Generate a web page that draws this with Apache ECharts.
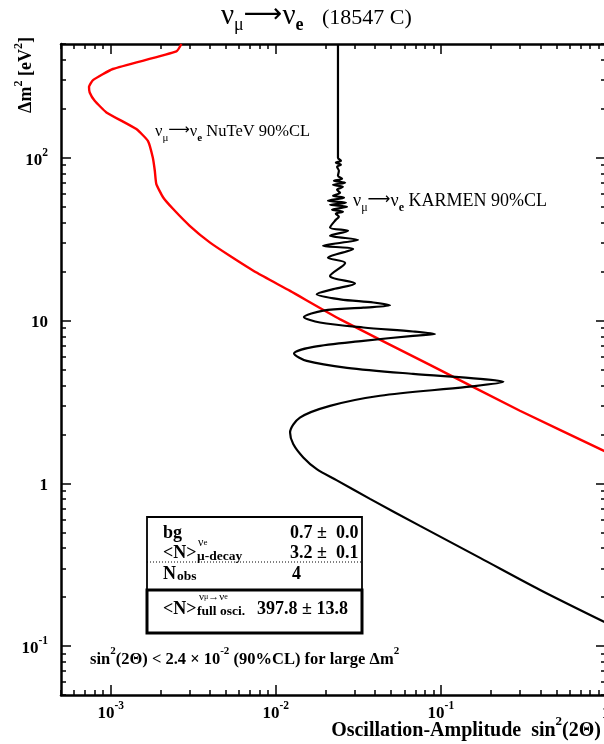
<!DOCTYPE html>
<html>
<head>
<meta charset="utf-8">
<script src="https://cdn.jsdelivr.net/npm/echarts@6/dist/echarts.min.js"></script>
<style>
  html, body { margin: 0; padding: 0; background: #fff; }
  #chart { width: 604px; height: 744px; }
</style>
</head>
<body>
<div id="chart"></div>
<script>
const SERIF = '"Liberation Serif", "Times New Roman", "DejaVu Serif", serif';
const ARROWF = '"DejaVu Sans", "Liberation Serif", serif';

// NuTeV nu_mu -> nu_e 90% CL contour: sin^2(2theta) and Delta m^2 [eV^2]
const nutevSin2 = [0.00268, 0.00250, 0.00103, 0.000781, 0.000739, 0.000746, 0.000800, 0.000942,
  0.00143, 0.00168, 0.00180, 0.00185, 0.00189, 0.00208, 0.00239, 0.00301, 0.00398, 0.00526,
  0.00764, 0.0122, 0.0244, 0.0858, 0.301, 1.0];
const nutevDm2 = [500, 450, 351, 300, 273, 252, 224, 190,
  150, 127, 100, 83.2, 68.9, 57.0, 48.4, 38.2, 30.2, 25.0,
  19.7, 15.2, 10.2, 5.34, 2.79, 1.56];

// KARMEN nu_mu -> nu_e 90% CL contour
const karmenSin2 = [0.0238, 0.0238, 0.0248, 0.0231, 0.0248, 0.0235, 0.0241, 0.0238, 0.0252, 0.0225,
  0.0263, 0.0222, 0.0255, 0.0235, 0.0245, 0.0222, 0.0259, 0.0207, 0.0266, 0.0213,
  0.0270, 0.0219, 0.0255, 0.0231, 0.0241, 0.0231, 0.0213, 0.0274, 0.0213, 0.0315,
  0.0193, 0.0294, 0.0207, 0.0263, 0.0213, 0.0302, 0.0223, 0.0177, 0.0245, 0.0390,
  0.0492, 0.0339, 0.0194, 0.0148, 0.0185, 0.0339, 0.0678, 0.0921, 0.0678, 0.0339,
  0.0169, 0.0129, 0.0154, 0.0270, 0.0678, 0.1727, 0.239, 0.1434, 0.0428, 0.0213,
  0.0140, 0.0122, 0.01275, 0.01467, 0.0177, 0.0233, 0.0372, 0.0747, 0.1727, 0.399, 1.0];
const karmenDm2 = [500, 100, 95.8, 93.2, 90.6, 88.0, 83.2, 77.5, 74.3, 72.2,
  70.2, 68.2, 66.3, 63.6, 60.9, 58.4, 56.8, 54.4, 52.9, 51.4,
  50.0, 47.9, 46.6, 45.3, 43.4, 41.6, 37.3, 35.6, 33.2, 31.3,
  28.8, 27.5, 24.3, 22.6, 18.8, 16.9, 15.6, 14.5, 13.5, 12.9,
  12.4, 12.0, 11.5, 10.5, 9.72, 9.06, 8.56, 8.25, 8.05, 7.50,
  6.89, 6.27, 5.65, 5.12, 4.70, 4.38, 4.20, 3.91, 3.45, 2.99,
  2.53, 2.05, 1.74, 1.44, 1.22, 1.045, 0.802, 0.547, 0.348, 0.221, 0.139];

// axis ranges and decade ticks
const xRange = [5e-4, 1];
const yRange = [0.05, 500];
const xMajor = [0.001, 0.01, 0.1, 1];
const xTickLabels = ['10^-3', '10^-2', '10^-1', '1'];
const yMajor = [0.1, 1, 10, 100];
const yTickLabels = ['10^-1', '1', '10', '10^2'];

// 2..9 sub-divisions of every decade inside a range
function minorTicks(range) {
  const out = [];
  for (let e = Math.floor(Math.log10(range[0])); e <= Math.ceil(Math.log10(range[1])); e++) {
    for (let m = 2; m <= 9; m++) {
      const v = +(m * Math.pow(10, e)).toPrecision(6);
      if (v >= range[0] * 0.999 && v <= range[1] * 1.001) out.push(v);
    }
  }
  return out;
}
const xMinor = minorTicks(xRange);
const yMinor = minorTicks(yRange);

function powerLabel(value, labels, majors) {
  const i = majors.findIndex(m => Math.abs(m - value) / m < 1e-6);
  if (i < 0) return '';
  const parts = labels[i].split('^');
  return parts.length > 1 ? '{b|' + parts[0] + '}{s|' + parts[1] + '}' : '{b|' + parts[0] + '}';
}

const tickRich = {
  b: { fontFamily: SERIF, fontWeight: 'bold', fontSize: 17, color: '#000', lineHeight: 22, verticalAlign: 'bottom' },
  s: { fontFamily: SERIF, fontWeight: 'bold', fontSize: 11.5, color: '#000', lineHeight: 12, verticalAlign: 'top' }
};

function makeAxis(kind, position, values, len, withLine, labels) {
  const range = kind === 'x' ? xRange : yRange;
  const ax = {
    type: 'log', logBase: 10, min: range[0], max: range[1], position: position,
    axisLine: { show: withLine, onZero: false, lineStyle: { color: '#000', width: 2.5 } },
    axisTick: { show: true, inside: true, length: len, customValues: values, lineStyle: { color: '#000', width: 1.5 } },
    axisLabel: { show: false },
    splitLine: { show: false }, minorTick: { show: false }, minorSplitLine: { show: false }
  };
  if (labels) {
    const majors = kind === 'x' ? xMajor : yMajor;
    ax.axisLabel = {
      show: true, customValues: majors, margin: kind === 'x' ? 5 : 13,
      formatter: v => powerLabel(v, labels, majors), rich: tickRich
    };
  }
  return ax;
}

const chart = echarts.init(document.getElementById('chart'), null, { renderer: 'canvas' });

function rt(x, y, text, rich, extra) {
  return {
    type: 'text', x: x, y: y, silent: true,
    style: Object.assign({ text: text, rich: rich, align: 'left', verticalAlign: 'middle', fill: '#000' }, extra || {})
  };
}

const boxRich = {
  b: { fontFamily: SERIF, fontWeight: 'bold', fontSize: 18, lineHeight: 22, verticalAlign: 'bottom', color: '#000' },
  d: { fontFamily: SERIF, fontWeight: 'bold', fontSize: 13.5, lineHeight: 13, verticalAlign: 'bottom', color: '#000' }
};
const noteRich = {
  b: { fontFamily: SERIF, fontWeight: 'bold', fontSize: 16.5, lineHeight: 22, verticalAlign: 'bottom', color: '#000' },
  s: { fontFamily: SERIF, fontWeight: 'bold', fontSize: 11, lineHeight: 11, verticalAlign: 'top', color: '#000' }
};

function reactionRich(size, arrowSize, subSize, color) {
  return {
    t: { fontFamily: SERIF, fontSize: size, lineHeight: size + 4, verticalAlign: 'top', color: color },
    a: { fontFamily: ARROWF, fontSize: arrowSize, lineHeight: size + 4, verticalAlign: 'top', color: color },
    u: { fontFamily: SERIF, fontSize: subSize, lineHeight: subSize, verticalAlign: 'bottom', color: color },
    e: { fontFamily: SERIF, fontWeight: 'bold', fontSize: subSize, lineHeight: subSize, verticalAlign: 'bottom', color: color }
  };
}

const option = {
  animation: false,
  backgroundColor: '#fff',
  grid: { left: 61, top: 44, width: 545, height: 651, outerBoundsMode: 'none', containLabel: false },
  xAxis: [
    makeAxis('x', 'bottom', xMajor, 10, true, xTickLabels),
    makeAxis('x', 'bottom', xMinor, 5, false),
    makeAxis('x', 'top', xMajor, 10, true),
    makeAxis('x', 'top', xMinor, 5, false)
  ],
  yAxis: [
    makeAxis('y', 'left', yMajor, 10, true, yTickLabels),
    makeAxis('y', 'left', yMinor, 5, false),
    makeAxis('y', 'right', yMajor, 10, true),
    makeAxis('y', 'right', yMinor, 5, false)
  ],
  series: [
    {
      name: 'NuTeV', type: 'line', xAxisIndex: 0, yAxisIndex: 0,
      data: nutevSin2.map((v, i) => [v, nutevDm2[i]]),
      showSymbol: false, smooth: 0.15,
      lineStyle: { color: '#ff0000', width: 2.4 }
    },
    {
      name: 'KARMEN', type: 'line', xAxisIndex: 0, yAxisIndex: 0,
      data: karmenSin2.map((v, i) => [v, karmenDm2[i]]),
      showSymbol: false, smooth: 0.3,
      lineStyle: { color: '#000', width: 2.2 }
    }
  ],
  graphic: [
    // title
    rt(221, 18, '{t|ν}{u|μ}{a|⟶}{t|ν}{e|e}', reactionRich(29, 27, 18, '#000')),
    rt(322, 18, '(18547 C)', null, { font: '22px ' + SERIF }),
    // y axis title
    Object.assign(rt(24, 75, '{b|Δm}{s|2}{b| [eV}{s|2}{b|]}', {
      b: { fontFamily: SERIF, fontWeight: 'bold', fontSize: 18, lineHeight: 22, verticalAlign: 'bottom', color: '#000' },
      s: { fontFamily: SERIF, fontWeight: 'bold', fontSize: 12, lineHeight: 12, verticalAlign: 'top', color: '#000' }
    }, { align: 'center' }), { rotation: Math.PI / 2 }),
    // x axis title
    rt(601, 728, '{b|Oscillation-Amplitude  sin}{s|2}{b|(2Θ)}', {
      b: { fontFamily: SERIF, fontWeight: 'bold', fontSize: 20, lineHeight: 25, verticalAlign: 'bottom', color: '#000' },
      s: { fontFamily: SERIF, fontWeight: 'bold', fontSize: 13, lineHeight: 13, verticalAlign: 'top', color: '#000' }
    }, { align: 'right' }),
    // curve labels
    rt(155, 133, '{t|ν}{u|μ}{a|⟶}{t|ν}{e|e}{t| NuTeV 90%CL}', reactionRich(16.5, 15, 11, '#ff0000')),
    rt(353, 203, '{t|ν}{u|μ}{a|⟶}{t|ν}{e|e}{t| KARMEN 90%CL}', reactionRich(18, 16, 12, '#000')),
    // statistics box
    { type: 'rect', silent: true, shape: { x: 147, y: 517, width: 215, height: 73 },
      style: { fill: 'none', stroke: '#000', lineWidth: 1.8 } },
    { type: 'rect', silent: true, shape: { x: 147, y: 590, width: 215, height: 43 },
      style: { fill: 'none', stroke: '#000', lineWidth: 3 } },
    { type: 'line', silent: true, shape: { x1: 147, y1: 562, x2: 362, y2: 562 },
      style: { stroke: '#000', lineWidth: 1, lineDash: [1, 2] } },
    rt(163, 531, '{b|bg}', boxRich),
    rt(290, 531, '{b|0.7 ±  0.0}', boxRich),
    rt(163, 551, '{b|<N>}', boxRich),
    rt(198, 543, '{s|ν}{n|e}', { s: { fontFamily: SERIF, fontSize: 12, color: '#000' }, n: { fontFamily: SERIF, fontSize: 9, color: '#000' } }),
    rt(197, 557, '{d|μ-decay}', boxRich),
    rt(290, 551, '{b|3.2 ±  0.1}', boxRich),
    rt(163, 572, '{b|N}', boxRich),
    rt(177, 577, '{d|obs}', boxRich),
    rt(292, 572, '{b|4}', boxRich),
    rt(163, 607, '{b|<N>}', boxRich),
    rt(199, 597, '{s|ν}{n|μ}{s|→ν}{n|e}', { s: { fontFamily: SERIF, fontSize: 11, color: '#000' }, n: { fontFamily: SERIF, fontSize: 8, color: '#000' } }),
    rt(197, 612, '{d|full osci.}', boxRich),
    rt(257, 607, '{b|397.8 ± 13.8}', boxRich),
    // large-Δm² limit
    rt(90, 657, '{b|sin}{s|2}{b|(2Θ) < 2.4 × 10}{s|-2}{b| (90%CL) for large Δm}{s|2}', noteRich)
  ]
};

chart.setOption(option);
</script>
</body>
</html>
